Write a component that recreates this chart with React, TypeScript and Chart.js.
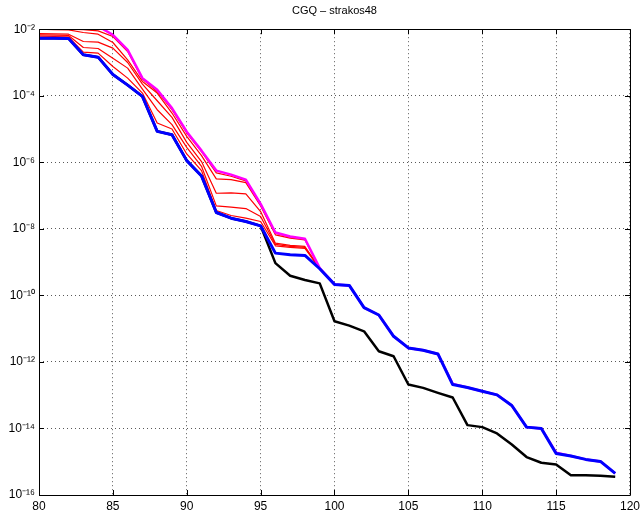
import React, { useEffect, useRef } from 'react';
import { Chart, registerables } from 'chart.js';

Chart.register(...registerables);

// iteration numbers
const iterations = [
  80, 81, 82, 83, 84, 85, 86, 87, 88, 89,
  90, 91, 92, 93, 94, 95, 96, 97, 98, 99,
  100, 101, 102, 103, 104, 105, 106, 107, 108, 109,
  110, 111, 112, 113, 114, 115, 116, 117, 118, 119,
];
const xTicks = [80, 85, 90, 95, 100, 105, 110, 115, 120];
const yTickExponents = [-16, -14, -12, -10, -8, -6, -4, -2];

// values stored as log10 exponents
const blueLog10 = [
  -2.27, -2.27, -2.28, -2.77, -2.84, -3.36, -3.68, -4.02, -5.07, -5.17,
  -5.95, -6.41, -7.51, -7.68, -7.78, -7.91, -8.73, -8.78, -8.8, -9.2,
  -9.67, -9.7, -10.37, -10.59, -11.23, -11.58, -11.65, -11.76, -12.68, -12.77,
  -12.88, -12.99, -13.31, -13.96, -14.0, -14.75, -14.83, -14.93, -14.99, -15.35,
];
const blackLog10 = [
  -2.27, -2.27, -2.28, -2.77, -2.84, -3.36, -3.68, -4.02, -5.07, -5.17,
  -5.95, -6.41, -7.51, -7.68, -7.78, -7.91, -9.03, -9.41, -9.54, -9.64,
  -10.78, -10.91, -11.08, -11.68, -11.83, -12.68, -12.78, -12.93, -13.07, -13.9,
  -13.96, -14.15, -14.48, -14.86, -15.03, -15.08, -15.41, -15.41, -15.42, -15.45,
];
const magentaLog10 = [
  -1.4, -1.5, -1.6, -1.75, -1.91, -2.17, -2.62, -3.47, -3.82, -4.37,
  -5.08, -5.65, -6.25, -6.37, -6.52, -7.25, -8.11, -8.23, -8.3, -9.18,
  -9.67, -9.7, -10.37, -10.59, -11.23, -11.58, -11.65, -11.76, -12.66, -12.77,
  -12.88, -12.99, -13.31, -13.96, -14.0, -14.73, -14.83, -14.93, -14.99, -15.35,
];
// red curves, iterations 80..99
const red1Log10 = [
  -1.9, -1.95, -2.0, -2.01, -2.05, -2.22, -2.67, -3.5, -3.87, -4.42,
  -5.12, -5.68, -6.32, -6.42, -6.56, -7.28, -8.13, -8.25, -8.31, -9.19,
];
const red2Log10 = [
  -2.0, -2.01, -2.02, -2.1, -2.15, -2.4, -2.92, -3.57, -3.92, -4.52,
  -5.22, -5.8, -6.5, -6.52, -6.61, -7.31, -8.18, -8.28, -8.33, -9.19,
];
const red3Log10 = [
  -2.13, -2.14, -2.15, -2.37, -2.39, -2.57, -3.0, -3.65, -4.15, -4.65,
  -5.4, -5.98, -6.93, -6.92, -6.95, -7.48, -8.43, -8.5, -8.53, -9.19,
];
const red4Log10 = [
  -2.17, -2.18, -2.19, -2.55, -2.58, -2.87, -3.17, -3.8, -4.42, -4.87,
  -5.55, -6.12, -7.31, -7.35, -7.39, -7.63, -8.47, -8.53, -8.56, -9.2,
];
const red5Log10 = [
  -2.21, -2.22, -2.23, -2.69, -2.72, -3.12, -3.47, -3.92, -4.82, -5.0,
  -5.75, -6.25, -7.45, -7.6, -7.68, -7.78, -8.51, -8.56, -8.59, -9.2,
];

const FONT = '"Liberation Sans", Arial, Helvetica, sans-serif';

const SUP: Record<string, string> = {
  '-': '\u207B', '0': '\u2070', '1': '\u00B9', '2': '\u00B2', '3': '\u00B3',
  '4': '\u2074', '5': '\u2075', '6': '\u2076', '7': '\u2077', '8': '\u2078', '9': '\u2079',
};
const sup = (n: number) => String(n).split('').map((c) => SUP[c] ?? c).join('');

const toPoints = (vals: number[]) =>
  vals.map((v, i) => ({ x: iterations[i], y: Math.pow(10, v) }));

const framePlugin = {
  id: 'matlabFrame',
  afterDatasetsDraw(chart: any) {
    const { ctx, chartArea, scales } = chart;
    const { left, right, top, bottom } = chartArea;
    ctx.save();
    ctx.strokeStyle = '#000';
    ctx.lineWidth = 1;
    ctx.beginPath();
    ctx.rect(Math.round(left) + 0.5, Math.round(top) + 0.5, Math.round(right - left), Math.round(bottom - top));
    ctx.stroke();
    const tl = 5;
    ctx.beginPath();
    xTicks.forEach((v) => {
      const px = Math.round(scales.x.getPixelForValue(v)) + 0.5;
      ctx.moveTo(px, bottom);
      ctx.lineTo(px, bottom - tl);
      ctx.moveTo(px, top);
      ctx.lineTo(px, top + tl);
    });
    yTickExponents.forEach((e) => {
      const py = Math.round(scales.y.getPixelForValue(Math.pow(10, e))) + 0.5;
      ctx.moveTo(left, py);
      ctx.lineTo(left + tl, py);
      ctx.moveTo(right, py);
      ctx.lineTo(right - tl, py);
    });
    ctx.stroke();
    ctx.restore();
  },
};

export default function App() {
  const ref = useRef<HTMLCanvasElement | null>(null);

  useEffect(() => {
    if (!ref.current) return;
    const line = (label: string, vals: number[], color: string, width: number, order: number) => ({
      label,
      data: toPoints(vals),
      borderColor: color,
      backgroundColor: color,
      borderWidth: width,
      pointRadius: 0,
      tension: 0,
      fill: false,
      order,
      borderJoinStyle: 'round' as const,
    });
    const chart = new Chart(ref.current, {
      type: 'line',
      data: {
        datasets: [
          line('blue', blueLog10, '#0000ff', 3, 0),
          line('black', blackLog10, '#000000', 2.5, 1),
          line('magenta', magentaLog10, '#ff00ff', 2.5, 2),
          line('red1', red1Log10, '#ff0000', 1.2, 3),
          line('red2', red2Log10, '#ff0000', 1.2, 4),
          line('red3', red3Log10, '#ff0000', 1.2, 5),
          line('red4', red4Log10, '#ff0000', 1.2, 6),
          line('red5', red5Log10, '#ff0000', 1.2, 7),
        ],
      },
      options: {
        responsive: false,
        animation: false,
        layout: { padding: { left: 0, right: 14, top: 0, bottom: 0 } },
        plugins: {
          legend: { display: false },
          tooltip: { enabled: false },
          title: {
            display: true,
            text: 'CGQ \u2013 strakos48',
            color: '#000',
            font: { family: FONT, size: 11, weight: 'normal' },
            padding: { top: 4, bottom: 12 },
            fullSize: false,
          },
        },
        scales: {
          x: {
            type: 'linear',
            min: 80,
            max: 120,
            afterBuildTicks: (scale: any) => {
              scale.ticks = xTicks.map((v) => ({ value: v }));
            },
            afterFit: (scale: any) => {
              scale.height = 18;
            },
            ticks: {
              autoSkip: false,
              maxRotation: 0,
              padding: 4,
              color: '#000',
              font: { family: FONT, size: 12 },
              callback: (v: any) => String(v),
            },
            grid: {
              drawTicks: false,
              color: 'rgba(0,0,0,0.65)',
              lineWidth: 1,
            },
            border: { display: false, dash: [1, 3] },
          },
          y: {
            type: 'logarithmic',
            min: 1e-16,
            max: 1e-2,
            afterBuildTicks: (scale: any) => {
              scale.ticks = yTickExponents.map((e) => ({ value: Math.pow(10, e) }));
            },
            afterFit: (scale: any) => {
              scale.width = 39;
            },
            ticks: {
              autoSkip: false,
              padding: 4,
              color: '#000',
              font: { family: FONT, size: 12 },
              callback: (v: any) => '10' + sup(Math.round(Math.log10(Number(v)))),
            },
            grid: {
              drawTicks: false,
              color: 'rgba(0,0,0,0.65)',
              lineWidth: 1,
            },
            border: { display: false, dash: [1, 3] },
          },
        },
      },
      plugins: [framePlugin],
    });
    return () => chart.destroy();
  }, []);

  return (
    <div style={{ position: 'fixed', left: 0, top: 0, width: 644, height: 513, background: '#fff' }}>
      <canvas ref={ref} width={644} height={513} />
    </div>
  );
}
